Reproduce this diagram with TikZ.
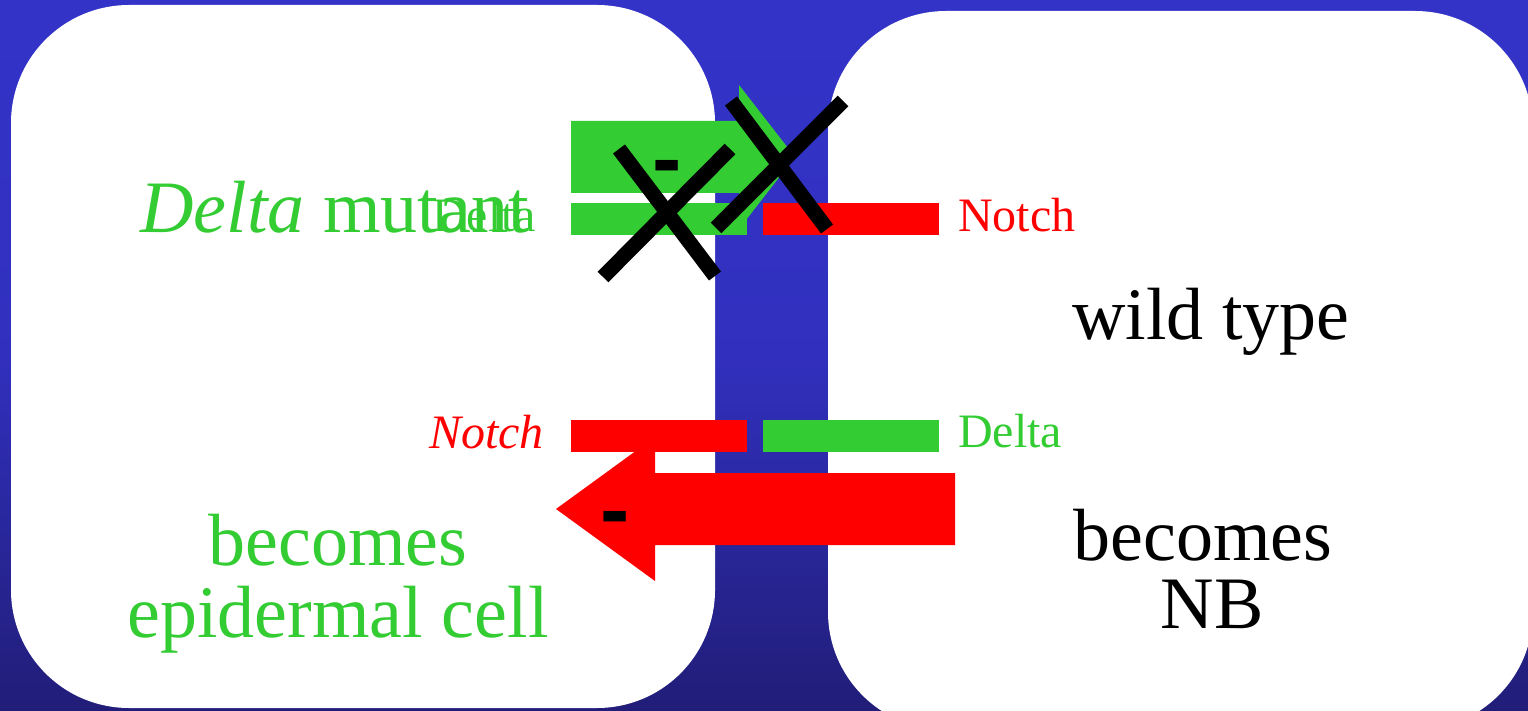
\documentclass[tikz,border=0pt]{standalone}
\usepackage{fontspec}
\setmainfont{Liberation Serif}
\newfontfamily\minusfont{Liberation Sans}
\definecolor{cellgreen}{RGB}{51,204,51}
\definecolor{bgtop}{RGB}{51,51,200}
\definecolor{bgmid}{RGB}{49,48,190}
\definecolor{bgbot}{RGB}{33,29,120}
\begin{document}
\begin{tikzpicture}[x=1pt,y=-1pt,
  cell/.style={fill=white, rounded corners=118pt},
  bar/.style={inner sep=0pt, minimum width=176pt, minimum height=32pt},
  big/.style={font=\fontsize{74}{80}\selectfont, inner sep=0pt},
  small/.style={font=\fontsize{48}{52}\selectfont, inner sep=0pt},
  cross/.style={line width=15pt, black},
  minus/.style={font=\minusfont\bfseries\fontsize{88}{90}\selectfont, inner sep=0pt, anchor=base}]

\useasboundingbox (0,0) rectangle (1528,711);
\clip (0,0) rectangle (1528,711);

% background and the two cells
\shade[top color=bgtop, bottom color=bgbot, middle color=bgmid] (0,0) rectangle (1528,711);
\fill[cell] (11,5) rectangle (715,708);
\fill[cell] (828,11) rectangle (1533,730);

% inhibitory signal from the left cell (blocked)
\fill[cellgreen] (571,121) -- (739,121) -- (739,85) -- (795,157) -- (739,229) -- (739,193) -- (571,193) -- cycle;

% receptor / ligand bars
\node[bar, fill=cellgreen] (deltaL) at (659,219) {};
\node[bar, fill=red]       (notchR) at (851,219) {};
\node[bar, fill=red]       (notchL) at (659,436) {};
\node[bar, fill=cellgreen] (deltaR) at (851,436) {};

% labels
\node[big, text=cellgreen, anchor=base west] (mutant) at (140,233) {\itshape Delta\/\upshape{} mutant};
\node[small, text=cellgreen, anchor=base west] (deltaLlbl) at (432,232) {Delta};
\node[small, text=red, anchor=base west] (notchRlbl) at (958,232) {Notch};
\node[small, text=red, anchor=base east] (notchLlbl) at (544,448) {\itshape Notch};
\node[small, text=cellgreen, anchor=base west] (deltaRlbl) at (958,447) {Delta};
\node[big, anchor=base] (wt) at (1211,339) {wild type};
\node[big, anchor=base] (becR) at (1203,560) {becomes};
\node[big, anchor=base] (nb) at (1212,628) {NB};
\node[big, text=cellgreen, anchor=base] (becL) at (338,565) {becomes};
\node[big, text=cellgreen, anchor=base] (epi) at (338,637) {epidermal cell};

% lateral inhibition from the right cell
\fill[red] (955,473) -- (655,473) -- (655,437) -- (556,509) -- (655,581) -- (655,545) -- (955,545) -- cycle;

% minus signs
\node[minus] (minusTop) at (667,189) {-};
\node[minus] (minusBot) at (615,539) {-};

% crosses
\draw[cross] (619,149) -- (715,276);
\draw[cross] (730,149) -- (603,277);
\draw[cross] (731,101) -- (827,229);
\draw[cross] (843,101) -- (716,228);
\end{tikzpicture}
\end{document}
